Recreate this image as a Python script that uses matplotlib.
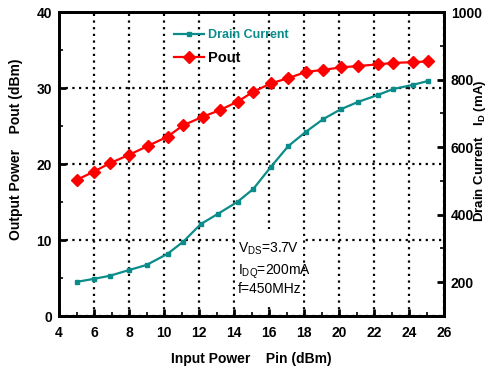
import matplotlib
matplotlib.use("Agg")
import matplotlib.pyplot as plt
from matplotlib.ticker import MultipleLocator
from matplotlib.lines import Line2D
from matplotlib.patches import Rectangle

plt.rcParams['font.family'] = ['Liberation Sans', 'DejaVu Sans']
plt.rcParams['font.weight'] = 'bold'
plt.rcParams['mathtext.fontset'] = 'custom'
plt.rcParams['mathtext.rm'] = 'Liberation Sans'

# Data
pin_pout = [5.0, 6.0, 6.9, 8.0, 9.1, 10.2, 11.1, 12.2, 13.2, 14.2, 15.1,
            16.1, 17.1, 18.1, 19.1, 20.1, 21.1, 22.2, 23.1, 24.2, 25.1]
pout = [17.9, 19.0, 20.1, 21.2, 22.4, 23.6, 25.1, 26.2, 27.1, 28.2, 29.5,
        30.6, 31.3, 32.1, 32.4, 32.7, 32.9, 33.1, 33.3, 33.4, 33.5]
pin_id = [5.0, 6.0, 6.9, 8.0, 9.0, 10.2, 11.1, 12.1, 13.1, 14.2, 15.1,
          16.1, 17.1, 18.1, 19.1, 20.1, 21.1, 22.2, 23.1, 24.2, 25.1]
drain_current = [201, 210, 219, 236, 251, 284, 320, 372, 403, 438, 476,
                 541, 603, 645, 683, 712, 734, 754, 772, 784, 796]

x_ticks = [4, 6, 8, 10, 12, 14, 16, 18, 20, 22, 24, 26]
left_ticks = [0, 10, 20, 30, 40]
right_ticks = [200, 400, 600, 800, 1000]

teal = '#0a8c8a'
red = '#ff0000'

fig = plt.figure(figsize=(4.88, 3.69), dpi=100)
ax = fig.add_axes([59/488, 53/369, 385/488, 304/369])
ax2 = ax.twinx()

ax.set_xlim(4, 26)
ax.set_ylim(0, 40)
ax2.set_ylim(100, 1000)

ax.set_xticks(x_ticks)
ax.set_yticks(left_ticks)
ax2.set_yticks(right_ticks)
ax.xaxis.set_minor_locator(MultipleLocator(1))
ax.yaxis.set_minor_locator(MultipleLocator(5))
ax2.yaxis.set_minor_locator(MultipleLocator(100))

for a in (ax, ax2):
    for s in a.spines.values():
        s.set_linewidth(2.0)
    a.tick_params(which='major', direction='in', length=5, width=2,
                  labelsize=10)
    a.tick_params(which='minor', direction='in', length=3, width=1.2)
ax.tick_params(axis='x', pad=7)
ax.tick_params(axis='y', pad=5)
ax2.tick_params(axis='y', pad=5)

# grid
ax.set_axisbelow(True)
ax.grid(True, which='major', color='black', linestyle=(0, (1, 2)),
        linewidth=1.6)

# text box covering grid
ax.add_patch(Rectangle((14.05, 1.4), 3.9, 10.0, facecolor='white',
                       edgecolor='none', zorder=1.5))
ax.text(14.2, 8.3, r'V$_\mathregular{DS}$=3.7V', fontsize=10,
        fontweight='normal', va='baseline', zorder=3)
ax.text(14.2, 5.5, r'I$_\mathregular{DQ}$=200mA', fontsize=10,
        fontweight='normal', va='baseline', zorder=3)
ax.text(14.2, 3.0, 'f=450MHz', fontsize=10, fontweight='normal',
        va='baseline', zorder=3)

ax.plot(pin_pout, pout, color=red, lw=1.6, marker='D', ms=6, zorder=4)
ax2.plot(pin_id, drain_current, color=teal, lw=1.6, marker='s', ms=3.5,
         zorder=4)

ax.set_xlabel('Input Power    Pin (dBm)', fontsize=10, fontweight='bold',
              labelpad=9)
fig.text(16/488, 1 - 149/369, 'Output Power    Pout (dBm)', rotation=90,
         fontsize=10, fontweight='bold', ha='center', va='center')
fig.text(480/488, 1 - 151/369, r'Drain Current   I$_\mathregular{D}$ (mA)',
         rotation=90, fontsize=9.5, fontweight='bold', ha='center',
         va='center')

handles = [Line2D([], [], color=teal, lw=1.6, marker='s', ms=3.5),
           Line2D([], [], color=red, lw=1.6, marker='D', ms=6)]
leg = ax.legend(handles, ['Drain Current', 'Pout'], loc='upper left',
                bbox_to_anchor=(0.27, 0.98), frameon=False, fontsize=9,
                handlelength=2.4, handletextpad=0.3, labelspacing=0.75)
for t, c, fs in zip(leg.get_texts(), [teal, 'black'], [9, 10.5]):
    t.set_color(c)
    t.set_fontweight('bold')
    t.set_fontsize(fs)

fig.savefig('out.png', dpi=100)
